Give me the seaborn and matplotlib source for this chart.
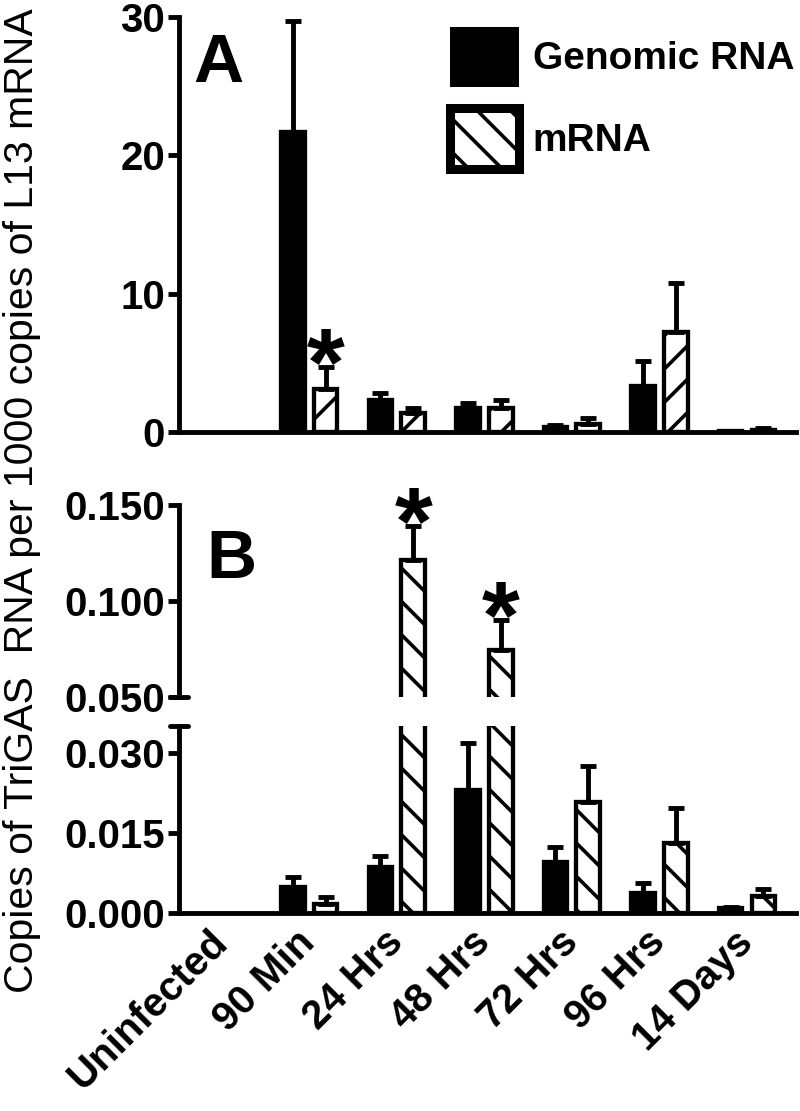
"""
Two-panel bar chart: TriGAS genomic RNA vs mRNA over infection time course.
Panel A is a plain axis, panel B uses a broken y-axis.
"""

import matplotlib
matplotlib.use("Agg")
import matplotlib.pyplot as plt
from matplotlib.patches import Patch
import numpy as np
import pandas as pd
import seaborn as sns


# ─────────────────────────────────────────────────────────────────────────────
# DATA
# ─────────────────────────────────────────────────────────────────────────────

groups = ["Uninfected", "90 Min", "24 Hrs", "48 Hrs", "72 Hrs", "96 Hrs", "14 Days"]
series = ["Genomic RNA", "mRNA"]

# panel A
a_genomic = [0, 21.7, 2.3, 1.7, 0.35, 3.3, 0.05]
a_genomic_err = [0, 8.0, 0.5, 0.4, 0.15, 1.8, 0.05]
a_mrna = [0, 3.1, 1.35, 1.7, 0.55, 7.2, 0.15]
a_mrna_err = [0, 1.6, 0.4, 0.6, 0.45, 3.6, 0.1]

# panel B
b_genomic = [0, 0.0048, 0.0086, 0.0231, 0.0096, 0.0037, 0.0009]
b_genomic_err = [0, 0.0020, 0.0021, 0.0088, 0.0028, 0.0019, 0.0003]
b_mrna = [0, 0.0017, 0.1214, 0.0745, 0.0208, 0.0131, 0.0032]
b_mrna_err = [0, 0.0013, 0.0176, 0.0156, 0.0068, 0.0066, 0.0013]

stars_a = ["90 Min"]
stars_b = ["24 Hrs", "48 Hrs"]

y_label = "Copies of TriGAS  RNA per 1000 copies of L13 mRNA"


# ─────────────────────────────────────────────────────────────────────────────
# STYLE
# ─────────────────────────────────────────────────────────────────────────────

sns.set_style("white")
plt.rcParams["font.family"] = ["Liberation Sans", "DejaVu Sans"]
plt.rcParams["hatch.linewidth"] = 2.6
plt.rcParams["hatch.color"] = "black"
for key in ["text.color", "axes.labelcolor", "xtick.color", "ytick.color"]:
    plt.rcParams[key] = "black"

TICK_FS = 29
SPINE_LW = 3.5


def style_axis(ax, bottom=True):
    for side in ["top", "right"]:
        ax.spines[side].set_visible(False)
    ax.spines["bottom"].set_visible(bottom)
    for side in ["left", "bottom"]:
        ax.spines[side].set_linewidth(SPINE_LW)
        ax.spines[side].set_color("black")
        ax.spines[side].set_capstyle("projecting")
    ax.tick_params(axis="y", left=True, length=8, width=SPINE_LW, pad=2,
                   labelsize=TICK_FS, colors="black")
    ax.tick_params(axis="x", bottom=False, length=0)
    for lab in ax.get_yticklabels():
        lab.set_fontweight("bold")
    ax.set_xlabel("")
    ax.set_ylabel("")
    ax.set_xlim(-0.49, 6.56)


def draw_bars(ax, genomic, genomic_err, mrna, mrna_err, hatch):
    df = pd.DataFrame({
        "group": groups * 2,
        "series": [series[0]] * len(groups) + [series[1]] * len(groups),
        "value": list(genomic) + list(mrna),
    })
    sns.barplot(data=df, x="group", y="value", hue="series",
                order=groups, hue_order=series,
                palette=["black", "white"], saturation=1,
                width=0.75, gap=0.28, errorbar=None,
                edgecolor="black", linewidth=3.1, legend=False, ax=ax)
    for cont, vals, err in zip(ax.containers, [genomic, mrna], [genomic_err, mrna_err]):
        xs, ys, es = [], [], []
        for bar, v, e in zip(cont, vals, err):
            if v > 0:
                xs.append(bar.get_x() + bar.get_width() / 2)
                ys.append(bar.get_height())
                es.append(e)
            else:
                bar.set_linewidth(0)  # empty group: nothing drawn
        ax.errorbar(xs, ys, yerr=[np.zeros(len(es)), es], fmt="none",
                    ecolor="black", elinewidth=3.5, capsize=6, capthick=3.5,
                    zorder=1)
    for bar in ax.containers[1]:
        bar.set_hatch(hatch)


def add_stars(ax, labels, values, errs):
    for lab in labels:
        i = groups.index(lab)
        bar = ax.containers[1][i]
        x = bar.get_x() + bar.get_width() / 2
        ax.annotate("*", (x, values[i] + errs[i]), xytext=(0, -20),
                    textcoords="offset points", ha="center", va="baseline",
                    fontsize=70, fontweight="bold", color="black",
                    annotation_clip=False)


fig = plt.figure(figsize=(8, 11.11), dpi=100)

# ─────────────────────────────────────────────────────────────────────────────
# PANEL A
# ─────────────────────────────────────────────────────────────────────────────

ax_a = fig.add_axes([0.2235, 0.6112, 0.7715, 0.3735])
draw_bars(ax_a, a_genomic, a_genomic_err, a_mrna, a_mrna_err, "/")
ax_a.set_ylim(0, 30)
ax_a.set_yticks([0, 10, 20, 30])
style_axis(ax_a)
ax_a.set_xticklabels([])
add_stars(ax_a, stars_a, a_mrna, a_mrna_err)
ax_a.text(0.023, 0.843, "A", transform=ax_a.transAxes, fontsize=50,
          fontweight="bold", va="baseline")

handles = [
    Patch(facecolor="black", edgecolor="black", linewidth=0),
    Patch(facecolor="white", edgecolor="black", linewidth=6.5, hatch="\\"),
]
ax_a.legend(handles, series, loc="upper left", bbox_to_anchor=(0.439, 0.976),
            frameon=False, borderpad=0, borderaxespad=0,
            prop={"size": 28, "weight": "bold"},
            handlelength=1.77, handleheight=2.0, handletextpad=0.36,
            labelspacing=0.55)

# ─────────────────────────────────────────────────────────────────────────────
# PANEL B (broken axis)
# ─────────────────────────────────────────────────────────────────────────────

ax_bt = fig.add_axes([0.2235, 0.3726, 0.7715, 0.1728])
ax_bb = fig.add_axes([0.2235, 0.1782, 0.7715, 0.1683])

for ax in (ax_bt, ax_bb):
    draw_bars(ax, b_genomic, b_genomic_err, b_mrna, b_mrna_err, "\\")

ax_bt.set_ylim(0.05, 0.15)
ax_bt.set_yticks([0.05, 0.10, 0.15])
ax_bt.set_yticklabels(["0.050", "0.100", "0.150"])
style_axis(ax_bt, bottom=False)
ax_bt.set_xticklabels([])
add_stars(ax_bt, stars_b, b_mrna, b_mrna_err)
ax_bt.text(0.044, 0.62, "B", transform=ax_bt.transAxes, fontsize=50,
           fontweight="bold", va="baseline")

ax_bb.set_ylim(0, 0.035)
ax_bb.set_yticks([0, 0.015, 0.030])
ax_bb.set_yticklabels(["0.000", "0.015", "0.030"])
style_axis(ax_bb)
ax_bb.set_xticks(range(len(groups)))
ax_bb.set_xticklabels(groups, rotation=45, ha="right", va="center",
                      rotation_mode="anchor", fontsize=TICK_FS,
                      fontweight="bold")
ax_bb.tick_params(axis="x", pad=17)

# break caps on the y-axis
ax_bt.plot([-0.015, 0.015], [0.05, 0.05], transform=ax_bt.get_yaxis_transform(),
           color="black", lw=SPINE_LW, clip_on=False, solid_capstyle="round")
ax_bb.plot([-0.015, 0.015], [0.035, 0.035], transform=ax_bb.get_yaxis_transform(),
           color="black", lw=SPINE_LW, clip_on=False, solid_capstyle="round")

fig.text(0.0275, 0.549, y_label, rotation=90, ha="center", va="center",
         fontsize=29.5)

fig.savefig("out.png", dpi=100)
